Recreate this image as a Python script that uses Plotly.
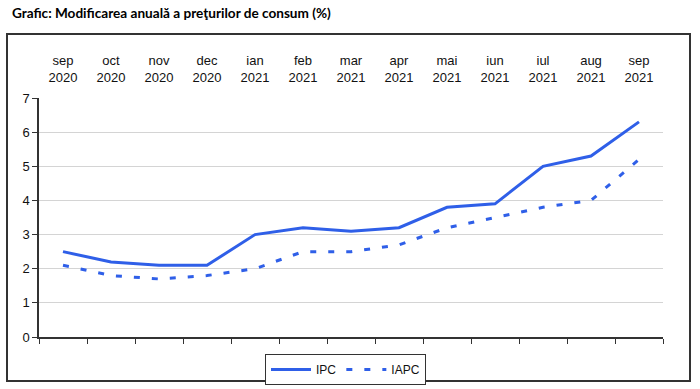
import plotly.graph_objects as go

months = ["sep<br>2020", "oct<br>2020", "nov<br>2020", "dec<br>2020", "ian<br>2021", "feb<br>2021",
          "mar<br>2021", "apr<br>2021", "mai<br>2021", "iun<br>2021", "iul<br>2021", "aug<br>2021", "sep<br>2021"]
ipc = [2.5, 2.2, 2.1, 2.1, 3.0, 3.2, 3.1, 3.2, 3.8, 3.9, 5.0, 5.3, 6.3]
iapc = [2.1, 1.8, 1.7, 1.8, 2.0, 2.5, 2.5, 2.7, 3.2, 3.5, 3.8, 4.0, 5.2]
y_ticks = [0, 1, 2, 3, 4, 5, 6, 7]

xs = list(range(len(months)))
blue = "#2F5FE8"
font = "Liberation Sans, Arial, sans-serif"

fig = go.Figure()
fig.add_trace(go.Scatter(x=xs, y=ipc, name="IPC", mode="lines",
                         line=dict(color=blue, width=3)))
fig.add_trace(go.Scatter(x=xs, y=iapc, name="IAPC", mode="lines",
                         line=dict(color=blue, width=3, dash="6px,12px")))
# dummy trace to carry the top label axis
fig.add_trace(go.Scatter(x=xs, y=ipc, xaxis="x2", mode="lines", showlegend=False,
                         hoverinfo="skip", line=dict(color="rgba(0,0,0,0)", width=0)))

n = len(months)
fig.update_layout(
    width=700, height=389,
    margin=dict(l=39, r=37, t=98, b=52, autoexpand=False),
    paper_bgcolor="white", plot_bgcolor="white",
    font=dict(family=font, size=13, color="#111"),
    title=dict(text="<b>Grafic: Modificarea anuală a preţurilor de consum (%)</b>",
               x=0.017, xanchor="left", y=0.965, yanchor="middle",
               font=dict(family="Lato, Open Sans, sans-serif", size=13.6, color="#000")),
    xaxis=dict(range=[-0.5, n - 0.5], tickvals=[i - 0.5 for i in range(n + 1)],
               showticklabels=False, ticks="outside", ticklen=5, tickcolor="#333",
               showline=True, linecolor="#333", linewidth=1.5, showgrid=False, zeroline=False,
               automargin=False),
    xaxis2=dict(range=[-0.5, n - 0.5], overlaying="x", side="top", matches="x",
                tickvals=xs, ticktext=months, ticks="", showline=False, showgrid=False,
                zeroline=False, ticklabelstandoff=12, automargin=False,
                tickfont=dict(family=font, size=13, color="#111")),
    yaxis=dict(range=[0, 7], tickvals=y_ticks, ticks="outside", ticklen=5, tickcolor="#333",
               showline=True, linecolor="#333", linewidth=1.5, showgrid=True,
               gridcolor="#d4d4d4", gridwidth=1, zeroline=False, automargin=False,
               tickfont=dict(family=font, size=13, color="#111")),
    legend=dict(orientation="h", x=(265 - 39) / 624, xanchor="left", y=(337 - 354) / 239,
                yanchor="top",
                bordercolor="#333", borderwidth=1, bgcolor="white",
                font=dict(family=font, size=12, color="#111"),
                itemwidth=40, tracegroupgap=0),
    showlegend=True,
    shapes=[dict(type="rect", xref="paper", yref="paper",
                 x0=(7 - 39) / 624, x1=(690 - 39) / 624,
                 y0=(337 - 381) / 239, y1=(337 - 34) / 239,
                 line=dict(color="#333", width=2), layer="below")],
)

fig.write_html("out.html", config={"displayModeBar": False},
               post_script="document.body.style.margin='0px';document.body.style.padding='0px';")
